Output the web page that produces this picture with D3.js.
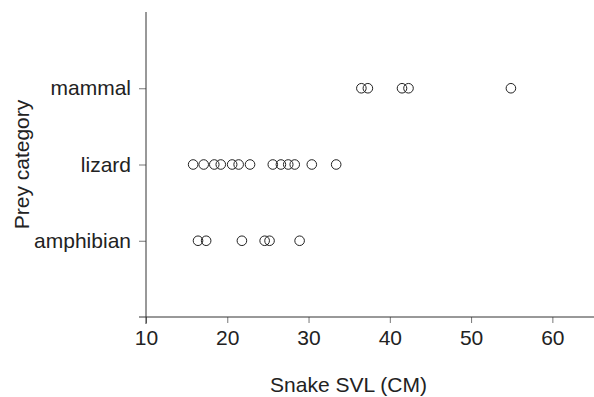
<!DOCTYPE html>
<html>
<head>
<meta charset="utf-8">
<script src="https://cdn.jsdelivr.net/npm/d3@7/dist/d3.min.js"></script>
<style>
  html, body { margin: 0; padding: 0; background: #fff; }
  svg text { font-family: "Liberation Sans", Arial, sans-serif; fill: #222; }
</style>
</head>
<body>
<div id="chart"></div>
<script>
// Prey categories, bottom to top
const categories = ['amphibian', 'lizard', 'mammal'];

// Snake SVL (cm) per prey item
const amphibianSVL = [16.4, 17.4, 21.8, 24.6, 25.2, 28.9];
const lizardSVL = [15.8, 17.1, 18.4, 19.2, 20.6, 21.4, 22.8, 25.6, 26.6, 27.5, 28.3, 30.4, 33.4];
const mammalSVL = [36.5, 37.3, 41.5, 42.3, 54.9];

const xTicks = [10, 20, 30, 40, 50, 60];

const W = 594, H = 397;
const plotL = 146, plotR = 593, plotT = 12, plotB = 317;
const fs = 21;

const x = d3.scaleLinear().domain([10, 65]).range([plotL, plotR]);
const y = d3.scaleLinear().domain([0, 4]).range([plotB, plotT]);

const svg = d3.select('#chart').append('svg')
  .attr('width', W).attr('height', H);

// x axis
const xAxisG = svg.append('g').attr('transform', `translate(0,${plotB})`)
  .call(d3.axisBottom(x).tickValues(xTicks).tickSize(6).tickPadding(7).tickFormat(d3.format('d')));
xAxisG.select('.domain').remove();
xAxisG.selectAll('line').attr('stroke', '#777');
xAxisG.selectAll('text').attr('font-size', fs).attr('fill', '#222');
svg.append('line')
  .attr('x1', plotL - 7).attr('x2', W)
  .attr('y1', plotB).attr('y2', plotB)
  .attr('stroke', '#333').attr('stroke-width', 1);

// y axis
const yAxisG = svg.append('g').attr('transform', `translate(${plotL},0)`)
  .call(d3.axisLeft(y).tickValues([1, 2, 3]).tickSize(7).tickPadding(8)
    .tickFormat(d => categories[d - 1]));
yAxisG.select('.domain').remove();
yAxisG.selectAll('line').attr('stroke', '#777');
yAxisG.selectAll('text').attr('font-size', fs).attr('fill', '#222');
svg.append('line')
  .attr('x1', plotL).attr('x2', plotL)
  .attr('y1', plotT).attr('y2', plotB + 7)
  .attr('stroke', '#333').attr('stroke-width', 1);

// points
const series = [amphibianSVL, lizardSVL, mammalSVL];
series.forEach((vals, i) => {
  svg.append('g').selectAll('circle').data(vals).join('circle')
    .attr('cx', d => x(d))
    .attr('cy', y(i + 1))
    .attr('r', 4.8)
    .attr('fill', 'none')
    .attr('stroke', '#222')
    .attr('stroke-width', 1);
});

// axis titles
svg.append('text')
  .attr('x', (plotL + plotR) / 2 - 21).attr('y', 392)
  .attr('text-anchor', 'middle').attr('font-size', fs)
  .text('Snake SVL (CM)');
svg.append('text')
  .attr('transform', `translate(29,${(plotT + plotB) / 2}) rotate(-90)`)
  .attr('text-anchor', 'middle').attr('font-size', fs)
  .text('Prey category');
</script>
</body>
</html>
